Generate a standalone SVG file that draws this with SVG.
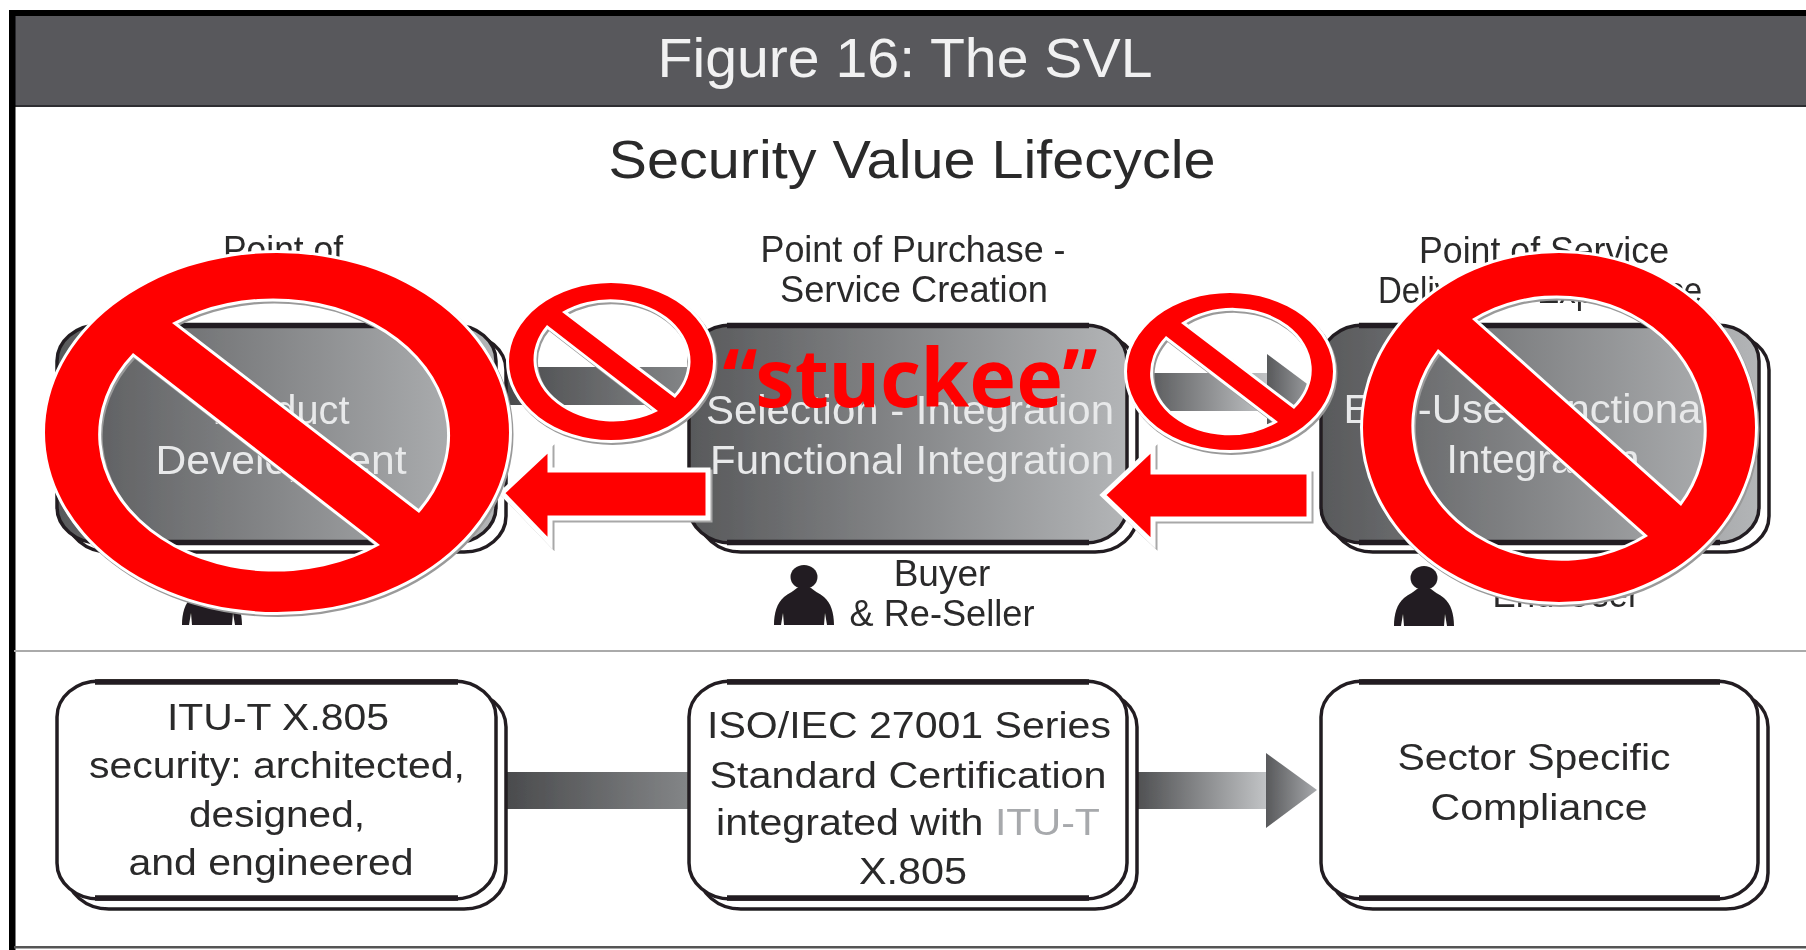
<svg xmlns="http://www.w3.org/2000/svg" xmlns:xlink="http://www.w3.org/1999/xlink" width="1806" height="950" viewBox="0 0 1806 950">
<style>
text{font-family:"Liberation Sans",Arial,sans-serif;text-anchor:middle;fill:#2b2a2b}
.lb{font-size:37px}
.wt{font-size:40px;fill:#e8e9ea}
.sh{fill:#fff;stroke:#231f20;stroke-width:3.5}
.ln{stroke:#231f20;stroke-width:3.5}
.th{stroke:#231f20;stroke-width:5.5;fill:none}
.g{fill:url(#boxg)}
.w{fill:#fff}
.ban{fill:#f00;fill-rule:evenodd}
.banw{fill:#fff;fill-rule:evenodd;stroke:#fff;stroke-width:6;stroke-linejoin:miter}
.bans{fill:#9a9a9a;fill-rule:evenodd;stroke:#9a9a9a;stroke-width:6}
</style>
<defs>
<filter id="soft" x="0" y="0" width="1" height="1" filterUnits="objectBoundingBox"><feGaussianBlur stdDeviation="0.7"/></filter>
<linearGradient id="boxg" x1="0" x2="1" y1="0" y2="0"><stop offset="0" stop-color="#58595b"/><stop offset="1" stop-color="#b3b5b7"/></linearGradient>
<linearGradient id="band1" x1="0" x2="1" y1="0" y2="0"><stop offset="0" stop-color="#4a4b4d"/><stop offset="1" stop-color="#848688"/></linearGradient>
<linearGradient id="band2" x1="0" x2="1" y1="0" y2="0"><stop offset="0" stop-color="#4f5052"/><stop offset="1" stop-color="#c2c4c6"/></linearGradient>
<linearGradient id="head" x1="0" x2="1" y1="0" y2="0"><stop offset="0" stop-color="#58595b"/><stop offset="1" stop-color="#a7a9ac"/></linearGradient>
<g id="person" fill="#231f20"><ellipse cx="0" cy="0" rx="13.5" ry="12"/><path d="M-30 48C-30 36-27 26-20 20-15 16-10 14-7 11L7 11C10 14 15 16 20 20 27 26 30 36 30 48L23 48 21 36 20 48-20 48-21 36-23 48Z"/></g>
</defs>
<rect width="1806" height="950" fill="#fff"/>
<g id="base" filter="url(#soft)">
<g id="frame">
<rect x="9" y="10" width="1797" height="7" fill="#000"/>
<rect x="12" y="16" width="1794" height="90" fill="#58595b"/>
<rect x="12" y="105" width="1794" height="2" fill="#2f2f30"/>
<rect x="9" y="10" width="6.5" height="940" fill="#000"/>
<rect x="14" y="650" width="1792" height="2" fill="#aaa"/>
<rect x="14" y="946" width="1792" height="2.5" fill="#555"/>
<text x="905" y="77" font-size="56" style="fill:#f1f1f2" textLength="495" lengthAdjust="spacingAndGlyphs">Figure 16: The SVL</text>
<text x="912" y="178" font-size="53" textLength="607" lengthAdjust="spacingAndGlyphs">Security Value Lifecycle</text>
</g>
<g id="connectors">
<rect x="505" y="367" width="186" height="38" fill="url(#band1)"/>
<rect x="1137" y="373" width="131" height="38" fill="url(#band2)"/>
<polygon points="1267,354 1318,392 1267,430" fill="url(#head)"/>
<rect x="506" y="772" width="185" height="37" fill="url(#band1)"/>
<rect x="1137" y="772" width="130" height="37" fill="url(#band2)"/>
<polygon points="1266,753 1317,790 1266,828" fill="url(#head)"/>
</g>
<g id="node-product">
<rect class="sh" x="67" y="334" width="439" height="218" rx="42" ry="36"/>
<rect class="g ln" x="57" y="325" width="439" height="218" rx="42" ry="36"/>
<path class="th" d="M95 325.5H458M95 542.5H458"/>
<text class="wt" x="281" y="424" textLength="137" lengthAdjust="spacingAndGlyphs">Product</text>
<text class="wt" x="281" y="474" textLength="251" lengthAdjust="spacingAndGlyphs">Development</text>
<text class="lb" x="283" y="262" textLength="120" lengthAdjust="spacingAndGlyphs">Point of</text>
<use xlink:href="#person" href="#person" x="212" y="577"/>
</g>
<g id="node-selection">
<rect class="sh" x="699" y="334" width="438" height="218" rx="42" ry="36"/>
<rect class="g ln" x="689" y="325" width="438" height="218" rx="42" ry="36"/>
<path class="th" d="M727 325.5H1089M727 542.5H1089"/>
<text class="wt" x="910" y="424" textLength="408" lengthAdjust="spacingAndGlyphs">Selection - Integration</text>
<text class="wt" x="912" y="474" textLength="404" lengthAdjust="spacingAndGlyphs">Functional Integration</text>
<text class="lb" x="913" y="262" textLength="305" lengthAdjust="spacingAndGlyphs">Point of Purchase -</text>
<text class="lb" x="914" y="302" textLength="268" lengthAdjust="spacingAndGlyphs">Service Creation</text>
<use xlink:href="#person" href="#person" x="804" y="577"/>
<text class="lb" x="942" y="586">Buyer</text>
<text class="lb" x="942" y="626" textLength="185" lengthAdjust="spacingAndGlyphs">&amp; Re-Seller</text>
</g>
<g id="node-enduse">
<rect class="sh" x="1331" y="334" width="438" height="218" rx="42" ry="36"/>
<rect class="g ln" x="1321" y="325" width="438" height="218" rx="42" ry="36"/>
<path class="th" d="M1359 325.5H1720M1359 542.5H1720"/>
<text class="wt" x="1527" y="423" textLength="367" lengthAdjust="spacingAndGlyphs">End-Use Functional</text>
<text class="wt" x="1543" y="473" textLength="193" lengthAdjust="spacingAndGlyphs">Integration</text>
<text class="lb" x="1544" y="263" textLength="250" lengthAdjust="spacingAndGlyphs">Point of Service</text>
<text class="lb" x="1540" y="303" textLength="324" lengthAdjust="spacingAndGlyphs">Delivery &amp; Experience</text>
<use xlink:href="#person" href="#person" x="1424" y="578"/>
<text class="lb" x="1566" y="607" textLength="147" lengthAdjust="spacingAndGlyphs">End-User</text>
</g>
<g id="node-itu">
<rect class="sh" x="67" y="691" width="439" height="218" rx="42" ry="36"/>
<rect class="w ln" x="57" y="681" width="439" height="218" rx="42" ry="36"/>
<path class="th" d="M95 682H458M95 898H458"/>
<text class="lb" x="278" y="730" textLength="222" lengthAdjust="spacingAndGlyphs">ITU-T X.805</text>
<text class="lb" x="277" y="778" textLength="376" lengthAdjust="spacingAndGlyphs">security: architected,</text>
<text class="lb" x="277" y="827" textLength="176" lengthAdjust="spacingAndGlyphs">designed,</text>
<text class="lb" x="271" y="875" textLength="285" lengthAdjust="spacingAndGlyphs">and engineered</text>
</g>
<g id="node-iso">
<rect class="sh" x="699" y="691" width="438" height="218" rx="42" ry="36"/>
<rect class="w ln" x="689" y="681" width="438" height="218" rx="42" ry="36"/>
<path class="th" d="M727 682H1089M727 898H1089"/>
<text class="lb" x="909" y="738" textLength="404" lengthAdjust="spacingAndGlyphs">ISO/IEC 27001 Series</text>
<text class="lb" x="908" y="788" textLength="397" lengthAdjust="spacingAndGlyphs">Standard Certification</text>
<text class="lb" x="908" y="835" textLength="384" lengthAdjust="spacingAndGlyphs">integrated with <tspan fill="#a7a9ac" style="fill:#a7a9ac">ITU-T</tspan></text>
<text class="lb" x="913" y="884" textLength="108" lengthAdjust="spacingAndGlyphs">X.805</text>
</g>
<g id="node-sector">
<rect class="sh" x="1331" y="691" width="437" height="218" rx="42" ry="36"/>
<rect class="w ln" x="1321" y="681" width="437" height="218" rx="42" ry="36"/>
<path class="th" d="M1359 682H1720M1359 898H1720"/>
<text class="lb" x="1534" y="770" textLength="273" lengthAdjust="spacingAndGlyphs">Sector Specific</text>
<text class="lb" x="1539" y="820" textLength="217" lengthAdjust="spacingAndGlyphs">Compliance</text>
</g>
</g>
<g id="arrow-red-1">
<polygon points="502,493 550,448 550,470 708,470 708,518 550,518 550,543" fill="#a8a8a8" stroke="#a8a8a8" stroke-width="5" transform="translate(2,2)"/>
<polygon points="502,493 550,448 550,470 708,470 708,518 550,518 550,543" fill="#f00" stroke="#fff" stroke-width="5"/>
</g>
<g id="arrow-red-2">
<polygon points="1103,495 1153,448 1153,472 1309,472 1309,519 1153,519 1153,543" fill="#a8a8a8" stroke="#a8a8a8" stroke-width="5" transform="translate(2,2)"/>
<polygon points="1103,495 1153,448 1153,472 1309,472 1309,519 1153,519 1153,543" fill="#f00" stroke="#fff" stroke-width="5"/>
</g>
<g id="ban-1">
<path class="bans" transform="translate(1.5,2)" d="M45 432.5A232 179.5 0 1 1 509 432.5A232 179.5 0 1 1 45 432.5ZM172 323L419 513A177 137 0 0 0 172 323ZM380 545L133 353A177 137 0 0 0 380 545Z"/>
<path class="banw" d="M45 432.5A232 179.5 0 1 1 509 432.5A232 179.5 0 1 1 45 432.5ZM172 323L419 513A177 137 0 0 0 172 323ZM380 545L133 353A177 137 0 0 0 380 545Z"/>
<path class="ban" d="M45 432.5A232 179.5 0 1 1 509 432.5A232 179.5 0 1 1 45 432.5ZM172 323L419 513A177 137 0 0 0 172 323ZM380 545L133 353A177 137 0 0 0 380 545Z"/>
</g>
<g id="ban-2">
<path class="bans" transform="translate(1.5,2)" d="M509 361.5A102 78.5 0 1 1 713 361.5A102 78.5 0 1 1 509 361.5ZM562 312L675 398A80 62 0 0 0 562 312ZM658 411L547 325A80 62 0 0 0 658 411Z"/>
<path class="banw" d="M509 361.5A102 78.5 0 1 1 713 361.5A102 78.5 0 1 1 509 361.5ZM562 312L675 398A80 62 0 0 0 562 312ZM658 411L547 325A80 62 0 0 0 658 411Z"/>
<path class="ban" d="M509 361.5A102 78.5 0 1 1 713 361.5A102 78.5 0 1 1 509 361.5ZM562 312L675 398A80 62 0 0 0 562 312ZM658 411L547 325A80 62 0 0 0 658 411Z"/>
</g>
<g id="ban-3">
<path class="bans" transform="translate(1.5,2)" d="M1127 371.5A103 78.5 0 1 1 1333 371.5A103 78.5 0 1 1 1127 371.5ZM1181 323L1294 409A79 62 0 0 0 1181 323ZM1278 422L1166 336A79 62 0 0 0 1278 422Z"/>
<path class="banw" d="M1127 371.5A103 78.5 0 1 1 1333 371.5A103 78.5 0 1 1 1127 371.5ZM1181 323L1294 409A79 62 0 0 0 1181 323ZM1278 422L1166 336A79 62 0 0 0 1278 422Z"/>
<path class="ban" d="M1127 371.5A103 78.5 0 1 1 1333 371.5A103 78.5 0 1 1 1127 371.5ZM1181 323L1294 409A79 62 0 0 0 1181 323ZM1278 422L1166 336A79 62 0 0 0 1278 422Z"/>
</g>
<g id="ban-4">
<path class="bans" transform="translate(1.5,2)" d="M1363 427.5A196 174.5 0 1 1 1755 427.5A196 174.5 0 1 1 1363 427.5ZM1472 319L1681 506A150 135 0 0 0 1472 319ZM1648 536L1438 349A150 135 0 0 0 1648 536Z"/>
<path class="banw" d="M1363 427.5A196 174.5 0 1 1 1755 427.5A196 174.5 0 1 1 1363 427.5ZM1472 319L1681 506A150 135 0 0 0 1472 319ZM1648 536L1438 349A150 135 0 0 0 1648 536Z"/>
<path class="ban" d="M1363 427.5A196 174.5 0 1 1 1755 427.5A196 174.5 0 1 1 1363 427.5ZM1472 319L1681 506A150 135 0 0 0 1472 319ZM1648 536L1438 349A150 135 0 0 0 1648 536Z"/>
</g>
<text id="stuckee" x="910" y="407" font-size="80" font-weight="700" style="font-family:'Noto Sans','Open Sans',sans-serif;fill:#f00" textLength="375" lengthAdjust="spacingAndGlyphs">“stuckee”</text>
</svg>
